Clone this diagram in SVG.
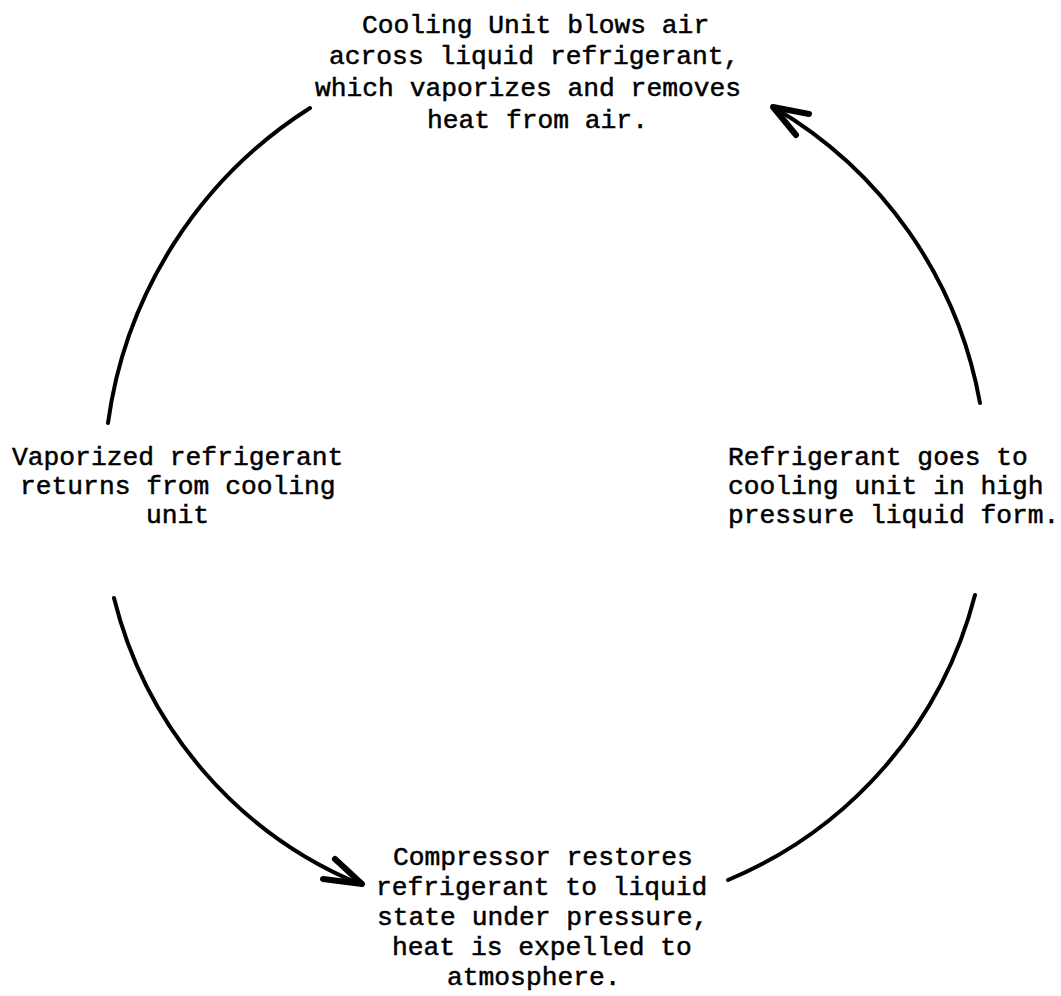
<svg xmlns="http://www.w3.org/2000/svg" width="1061" height="996" viewBox="0 0 1061 996">
<style>
text{font-family:"Liberation Mono","Courier New",monospace;font-size:26.3px;fill:#000;stroke:#000;stroke-width:0.5px}
.arc{fill:none;stroke:#000;stroke-width:4;stroke-linecap:round}
.head{fill:none;stroke:#000;stroke-width:6;stroke-linecap:round;stroke-linejoin:round}
</style>
<rect width="1061" height="996" fill="#fff"/>
<g id="connectors">
<path class="arc" d="M108,423 A443.7,443.7 0 0 1 310,108"/>
<path class="arc" d="M980,403 A430,430 0 0 0 773,107"/>
<path class="head" d="M809,114 L773,107 L796,135"/>
<path class="arc" d="M114,598 A418.3,418.3 0 0 0 362,885"/>
<path class="head" d="M335,859 L362,884 L323,879"/>
<path class="arc" d="M975,595 A423,423 0 0 1 728,880"/>
</g>
<g id="cooling-unit">
<text x="362" y="33">Cooling Unit blows air</text>
<text x="329" y="64">across liquid refrigerant,</text>
<text x="315" y="96">which vaporizes and removes</text>
<text x="427" y="128">heat from air.</text>
</g>
<g id="vaporized">
<text x="12" y="465">Vaporized refrigerant</text>
<text x="20" y="494">returns from cooling</text>
<text x="146" y="523">unit</text>
</g>
<g id="refrigerant-goes">
<text x="728" y="465">Refrigerant goes to</text>
<text x="728" y="494">cooling unit in high</text>
<text x="728" y="523">pressure liquid form.</text>
</g>
<g id="compressor">
<text x="393" y="865">Compressor restores</text>
<text x="376" y="895">refrigerant to liquid</text>
<text x="377" y="925">state under pressure,</text>
<text x="392" y="955">heat is expelled to</text>
<text x="447" y="985">atmosphere.</text>
</g>
</svg>
